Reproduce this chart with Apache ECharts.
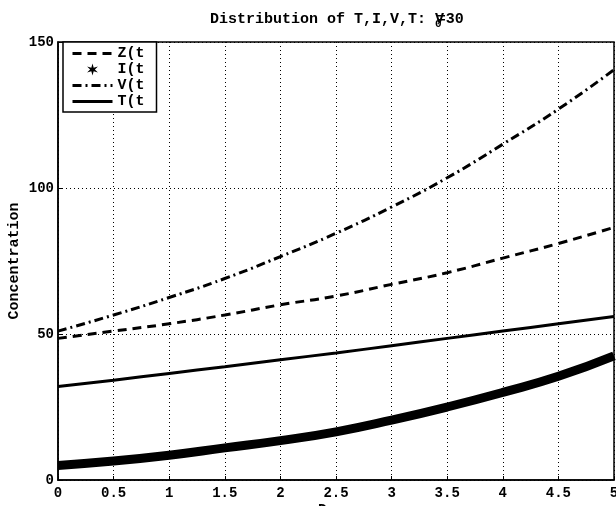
<html>
    <head>
        <meta charset="utf-8">
        <script src='https://cdn.jsdelivr.net/npm/echarts@6/dist/echarts.min.js'></script>
    </head>
    <body>
        <style>
            html, body, #main {
                width: 100%;
                height: 100%;
                margin: 0;
                background: #fff;
            }
        </style>
        <div id='main'></div>
        <script>
            // values, every 0.5 on the time axis
            var times = [0, 0.5, 1, 1.5, 2, 2.5, 3, 3.5, 4, 4.5, 5];
            var zVals = [48.5, 51, 53.5, 56.5, 60, 63, 67, 71, 76, 81, 86.5];
            var iVals = [5, 6.5, 8.5, 11, 13.5, 16.5, 20.5, 25, 30, 35.5, 42.5];
            var vVals = [51, 56.5, 62.5, 69, 76.5, 84.5, 93.5, 103.5, 115, 127, 140.5];
            var tVals = [32, 34.2, 36.5, 38.8, 41.2, 43.5, 46, 48.5, 51, 53.5, 56];
            var yTicks = [0, 50, 100, 150];

            var font = 'Liberation Mono';
            var star = 'path://M0,-10L2,-3L9,-5L4,0L9,5L2,3L0,10L-2,3L-9,5L-4,0L-9,-5L-2,-3Z';
            var hidden = { opacity: 0 };

            function pairs(vals) {
                return times.map(function (t, i) { return [t, vals[i]]; });
            }

            var chart = echarts.init(document.getElementById('main'));

            var option = {
                backgroundColor: '#fff',
                animation: false,
                title: {
                    text: 'Distribution of T,I,V,T: {v|V}{s|0}{e|=30}',
                    left: 205,
                    top: 3,
                    textStyle: {
                        fontFamily: font,
                        fontWeight: 'bold',
                        fontSize: 15,
                        color: '#000',
                        rich: {
                            v: { fontFamily: font, fontWeight: 'bold', fontSize: 15, color: '#000' },
                            s: { fontFamily: font, fontWeight: 'bold', fontSize: 11, color: '#000', verticalAlign: 'bottom', padding: [11, -5, 0, -9] },
                            e: { fontFamily: font, fontWeight: 'bold', fontSize: 15, color: '#000' }
                        }
                    }
                },
                legend: {
                    orient: 'vertical',
                    left: 63,
                    top: 42,
                    padding: [4, 9, 3, 8],
                    itemGap: 1,
                    itemWidth: 40,
                    itemHeight: 12,
                    borderColor: '#000',
                    borderWidth: 1.5,
                    borderRadius: 0,
                    backgroundColor: '#fff',
                    align: 'left',
                    lineStyle: { width: 3 },
                    textStyle: {
                        fontFamily: font,
                        fontWeight: 'bold',
                        fontSize: 15,
                        lineHeight: 15,
                        color: '#000',
                        width: 30,
                        overflow: 'truncate',
                        ellipsis: ''
                    },
                    data: [
                        { name: 'Z(t)', itemStyle: hidden },
                        { name: 'I(t)', icon: star, itemStyle: { color: '#000' } },
                        { name: 'V(t)', itemStyle: hidden },
                        { name: 'T(t)', itemStyle: hidden }
                    ]
                },
                grid: {
                    left: 58,
                    right: 2,
                    top: 42,
                    bottom: 26,
                    outerBoundsMode: 'none',
                    show: true,
                    borderColor: '#000',
                    borderWidth: 1.5
                },
                xAxis: {
                    type: 'value',
                    min: 0,
                    max: 5,
                    interval: 0.5,
                    name: 'Days',
                    nameLocation: 'middle',
                    nameGap: 23,
                    nameMoveOverlap: false,
                    nameTextStyle: { fontFamily: font, fontWeight: 'bold', fontSize: 15, color: '#000', verticalAlign: 'top' },
                    axisLine: { lineStyle: { color: '#000', width: 1.5 } },
                    axisTick: { inside: true, length: 4, lineStyle: { color: '#000' } },
                    axisLabel: { fontFamily: font, fontWeight: 'bold', fontSize: 14, color: '#000', margin: 6 },
                    splitLine: { lineStyle: { color: '#000', type: [1, 3], width: 1 } }
                },
                yAxis: {
                    type: 'value',
                    min: 0,
                    max: 150,
                    interval: 50,
                    name: 'Concentration',
                    nameLocation: 'middle',
                    nameGap: 36,
                    nameMoveOverlap: false,
                    nameTextStyle: { fontFamily: font, fontWeight: 'bold', fontSize: 15, color: '#000' },
                    axisLine: { lineStyle: { color: '#000', width: 1.5 } },
                    axisTick: { inside: true, length: 4, lineStyle: { color: '#000' } },
                    axisLabel: {
                        fontFamily: font, fontWeight: 'bold', fontSize: 14, color: '#000', margin: 4,
                        formatter: function (v) { return yTicks.indexOf(v) >= 0 ? String(v) : ''; }
                    },
                    splitLine: { lineStyle: { color: '#000', type: [1, 3], width: 1 } }
                },
                series: [
                    {
                        name: 'Z(t)',
                        type: 'line',
                        smooth: true,
                        symbol: 'none',
                        data: pairs(zVals),
                        itemStyle: { color: '#000' },
                        lineStyle: { color: '#000', width: 3, type: [9, 6] }
                    },
                    {
                        name: 'I(t)',
                        type: 'line',
                        smooth: true,
                        symbol: 'none',
                        data: pairs(iVals),
                        itemStyle: { color: '#000' },
                        lineStyle: { color: '#000', width: 9 }
                    },
                    {
                        name: 'V(t)',
                        type: 'line',
                        smooth: true,
                        symbol: 'none',
                        data: pairs(vVals),
                        itemStyle: { color: '#000' },
                        lineStyle: { color: '#000', width: 3, type: [9, 4, 2, 4] }
                    },
                    {
                        name: 'T(t)',
                        type: 'line',
                        smooth: true,
                        symbol: 'none',
                        data: pairs(tVals),
                        itemStyle: { color: '#000' },
                        lineStyle: { color: '#000', width: 3 }
                    }
                ]
            };

            chart.setOption(option);
            window.onresize = chart.resize;
        </script>
    </body>
</html>
